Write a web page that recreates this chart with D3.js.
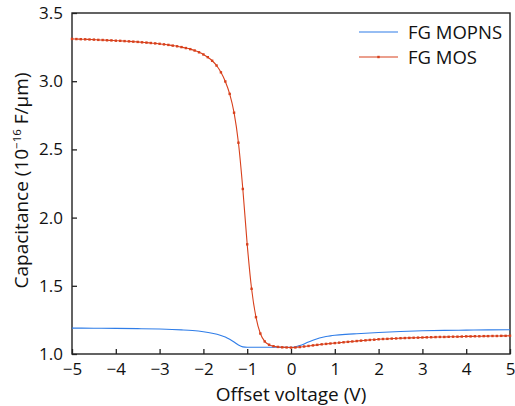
<!DOCTYPE html>
<html>
<head>
<meta charset="utf-8">
<script src="https://cdn.jsdelivr.net/npm/d3@7/dist/d3.min.js"></script>
<style>
  body { margin: 0; background: #fff; }
  svg { display: block; font-family: "Open Sans", sans-serif; }
</style>
</head>
<body>
<svg id="chart" width="515" height="406"></svg>
<script>
// Offset voltage grid for the FG MOS sweep (one marker every 0.1 V)
const mosVoltage = d3.range(101).map(i => -5 + i * 0.1);
const mosCap = [
  3.310, 3.309, 3.308, 3.307, 3.306, 3.305, 3.303, 3.302, 3.300, 3.299,
  3.297, 3.296, 3.294, 3.292, 3.290, 3.288, 3.285, 3.283, 3.280, 3.277,
  3.274, 3.270, 3.266, 3.261, 3.256, 3.250, 3.243, 3.235, 3.225, 3.212,
  3.196, 3.176, 3.150, 3.115, 3.065, 2.998, 2.907, 2.769, 2.549, 2.210,
  1.804, 1.478, 1.270, 1.150, 1.092, 1.068, 1.057, 1.052, 1.049, 1.048,
  1.047, 1.048, 1.051, 1.055, 1.059, 1.063, 1.067, 1.071, 1.074, 1.077,
  1.080, 1.083, 1.086, 1.089, 1.092, 1.095, 1.098, 1.100, 1.103, 1.105,
  1.108, 1.110, 1.111, 1.113, 1.114, 1.116, 1.117, 1.118, 1.119, 1.120,
  1.121, 1.122, 1.123, 1.124, 1.125, 1.125, 1.126, 1.127, 1.127, 1.128,
  1.129, 1.129, 1.130, 1.130, 1.131, 1.131, 1.132, 1.132, 1.133, 1.133,
  1.134
];

// FG MOPNS: smooth line, no markers
const mopnsVoltage = [-5, -4.5, -4, -3.5, -3, -2.5, -2.25, -2, -1.8, -1.6, -1.5, -1.4, -1.3, -1.2, -1.1, -1,
  -0.5, 0, 0.1, 0.2, 0.3, 0.4, 0.5, 0.6, 0.7, 0.8, 0.9, 1, 1.25, 1.5, 2, 2.5, 3, 3.5, 4, 4.5, 5];
const mopnsCap = [1.190, 1.189, 1.188, 1.186, 1.183, 1.177, 1.172, 1.163, 1.152, 1.136, 1.125, 1.108, 1.088, 1.066, 1.052, 1.049,
  1.049, 1.049, 1.053, 1.062, 1.074, 1.088, 1.101, 1.112, 1.121, 1.128, 1.133, 1.137, 1.144, 1.149, 1.158, 1.165, 1.170, 1.173, 1.175, 1.177, 1.178];

const xTicks = [-5, -4, -3, -2, -1, 0, 1, 2, 3, 4, 5];
const yTicks = [1.0, 1.5, 2.0, 2.5, 3.0, 3.5];

const blue = "#2f7de8";
const red = "#d8401c";

const svg = d3.select("#chart");
const margin = {left: 72, top: 13, right: 5, bottom: 52};
const W = 515 - margin.left - margin.right;
const H = 406 - margin.top - margin.bottom;

const x = d3.scaleLinear().domain([-5, 5]).range([0, W]);
const y = d3.scaleLinear().domain([1.0, 3.5]).range([H, 0]);

const g = svg.append("g").attr("transform", `translate(${margin.left},${margin.top})`);

// x axis, ticks pointing inward
const xAxis = g.append("g")
  .attr("transform", `translate(0,${H})`)
  .call(d3.axisBottom(x).tickValues(xTicks).tickSizeInner(-5).tickSizeOuter(0).tickPadding(9)
    .tickFormat(d3.format("d")));
const yAxis = g.append("g")
  .call(d3.axisLeft(y).tickValues(yTicks).tickSizeInner(-5).tickSizeOuter(0).tickPadding(9)
    .tickFormat(d3.format(".1f")));

[xAxis, yAxis].forEach(a => {
  a.select(".domain").remove();
  a.selectAll(".tick line").attr("stroke", "#222").attr("stroke-width", 1.3);
  a.selectAll(".tick text").attr("fill", "#111").style("font-size", "17px")
    .style("font-family", "'Open Sans', sans-serif");
});

// frame
g.append("rect")
  .attr("x", 0).attr("y", 0).attr("width", W).attr("height", H)
  .attr("fill", "none").attr("stroke", "#222").attr("stroke-width", 1.4);

const line = d3.line().x(d => x(d[0])).y(d => y(d[1])).curve(d3.curveMonotoneX);

const mopns = mopnsVoltage.map((v, i) => [v, mopnsCap[i]]);
const mos = mosVoltage.map((v, i) => [v, mosCap[i]]);

g.append("path").datum(mopns)
  .attr("d", line).attr("fill", "none").attr("stroke", blue).attr("stroke-width", 1.1);

g.append("path").datum(mos)
  .attr("d", line).attr("fill", "none").attr("stroke", red).attr("stroke-width", 1.1);

g.selectAll(".mk").data(mos).join("rect")
  .attr("class", "mk")
  .attr("x", d => x(d[0]) - 1.2).attr("y", d => y(d[1]) - 1.2)
  .attr("width", 2.4).attr("height", 2.4)
  .attr("fill", red);

// legend
const leg = g.append("g").attr("transform", `translate(${359 - margin.left},${32 - margin.top})`);
const legItems = [
  {name: "FG MOPNS", color: blue, marker: false},
  {name: "FG MOS", color: red, marker: true}
];
legItems.forEach((it, i) => {
  const row = leg.append("g").attr("transform", `translate(0,${i * 25})`);
  row.append("line").attr("x1", 0).attr("x2", 39).attr("y1", 0).attr("y2", 0)
    .attr("stroke", it.color).attr("stroke-width", 1.1);
  if (it.marker) {
    row.append("rect").attr("x", 18.3).attr("y", -1.2).attr("width", 2.4).attr("height", 2.4).attr("fill", it.color);
  }
  row.append("text").attr("x", 49).attr("y", 6.5)
    .style("font-size", "18.5px").attr("fill", "#111").text(it.name);
});

// axis titles
svg.append("text")
  .attr("x", margin.left + W / 2).attr("y", 401)
  .attr("text-anchor", "middle").style("font-size", "19px").attr("fill", "#111")
  .text("Offset voltage (V)");

const yt = svg.append("text")
  .attr("transform", `translate(28,${margin.top + H / 2 - 3}) rotate(-90)`)
  .attr("text-anchor", "middle").style("font-size", "19px").attr("fill", "#111");
yt.append("tspan").text("Capacitance (10");
yt.append("tspan").attr("dy", -7).style("font-size", "11.5px").text("\u221216");
yt.append("tspan").attr("dy", 7).text(" F/\u03bcm)");
</script>
</body>
</html>
